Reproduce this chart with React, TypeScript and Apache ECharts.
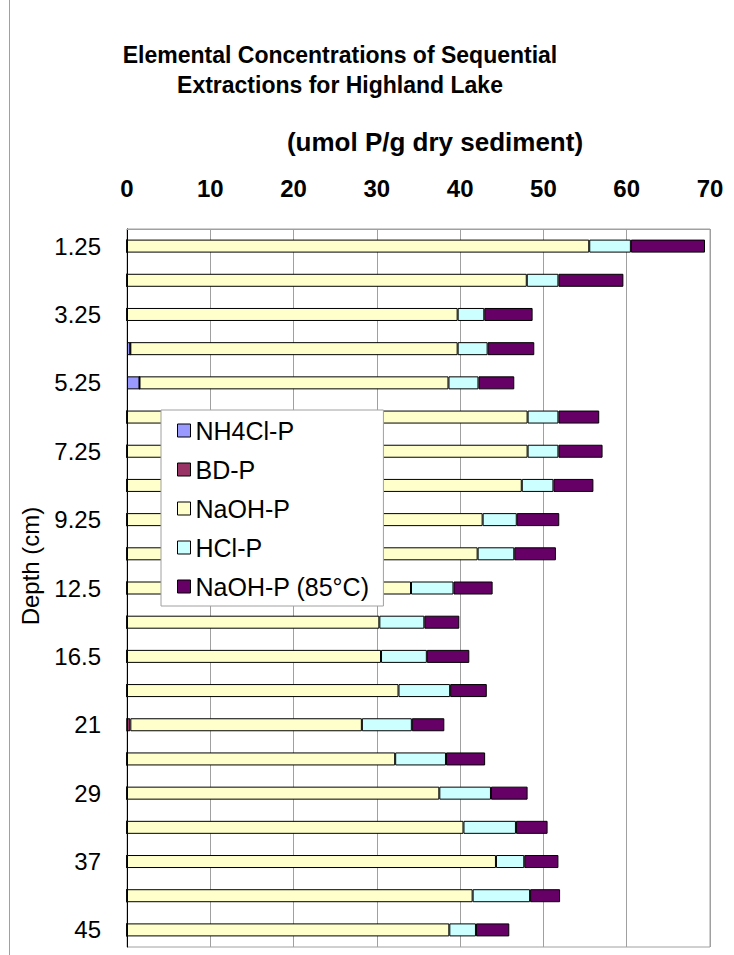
import React, { useEffect, useRef } from "react";
import * as echarts from "echarts";

const depths = ["1.25","2.25","3.25","4.25","5.25","6.25","7.25","8.25","9.25","10.75","12.5","14.5","16.5","18.75","21","25","29","33","37","41","45"];
const nh4clP = [0,0,0,0.4,1.5,0,0,0,0,0,0,0,0,0,0,0,0,0,0,0,0];
const bdP = [0,0,0,0,0,0,0,0,0,0,0,0,0,0,0.4,0,0,0,0,0,0];
const naohP = [55.5,48.0,39.7,39.3,37.1,48.1,48.1,47.4,42.7,42.1,34.1,30.3,30.5,32.6,27.8,32.2,37.5,40.4,44.3,41.5,38.7];
const hclP = [5.0,3.8,3.2,3.6,3.6,3.7,3.7,3.8,4.1,4.4,5.1,5.4,5.5,6.2,6.0,6.1,6.2,6.3,3.4,6.9,3.2];
const naoh85P = [8.9,7.8,5.8,5.6,4.3,4.9,5.3,4.8,5.1,5.0,4.7,4.2,5.1,4.4,3.9,4.7,4.4,3.8,4.1,3.6,4.0];

const seriesDefs = [
  { name: "NH4Cl-P", data: nh4clP, color: "#9999FF" },
  { name: "BD-P", data: bdP, color: "#993366" },
  { name: "NaOH-P", data: naohP, color: "#FFFFCC" },
  { name: "HCl-P", data: hclP, color: "#CCFFFF" },
  { name: "NaOH-P (85°C)", data: naoh85P, color: "#660066" },
];

const FONT = "Arial, 'Liberation Sans', sans-serif";

export default function App() {
  const ref = useRef<HTMLDivElement>(null);
  useEffect(() => {
    if (!ref.current) return;
    const chart = echarts.init(ref.current, undefined, { renderer: "svg" });
    chart.setOption({
      animation: false,
      backgroundColor: "#ffffff",
      textStyle: { fontFamily: FONT },
      graphic: [
        { type: "line", shape: { x1: 9.5, y1: 0, x2: 9.5, y2: 955 }, style: { stroke: "#a0a0a0", lineWidth: 1 } },
        { type: "text", x: 340, y: 55, style: { text: "Elemental Concentrations of Sequential", font: `bold 23px ${FONT}`, fill: "#000", textAlign: "center", textVerticalAlign: "middle" } },
        { type: "text", x: 340, y: 85, style: { text: "Extractions for Highland Lake", font: `bold 23px ${FONT}`, fill: "#000", textAlign: "center", textVerticalAlign: "middle" } },
        { type: "text", x: 435, y: 142, style: { text: "(umol P/g dry sediment)", font: `bold 26px ${FONT}`, fill: "#000", textAlign: "center", textVerticalAlign: "middle" } },
        { type: "text", x: 30, y: 566, rotation: Math.PI / 2, style: { text: "Depth (cm)", font: `24px ${FONT}`, fill: "#000", textAlign: "center", textVerticalAlign: "middle" } },
      ],
      legend: {
        orient: "vertical",
        left: 161,
        top: 410,
        padding: [8, 14, 7, 16],
        itemGap: 14,
        itemWidth: 13,
        itemHeight: 13,
        icon: "rect",
        backgroundColor: "#ffffff",
        borderColor: "#a0a0a0",
        borderWidth: 1,
        textStyle: { fontSize: 25, color: "#000", fontFamily: FONT },
        data: seriesDefs.map((s) => ({ name: s.name, itemStyle: { color: s.color, borderColor: "#000", borderWidth: 1 } })),
      },
      grid: {
        left: 127,
        right: 24,
        top: 229,
        bottom: 8,
        show: true,
        borderColor: "#a0a0a0",
        borderWidth: 1,
      },
      xAxis: {
        type: "value",
        position: "top",
        min: 0,
        max: 70,
        interval: 10,
        axisLine: { show: true, lineStyle: { color: "#a0a0a0" } },
        axisTick: { show: false },
        splitLine: { show: true, lineStyle: { color: "#a0a0a0", width: 1 } },
        axisLabel: { fontSize: 24, fontWeight: "bold", color: "#000", margin: 29, fontFamily: FONT },
      },
      yAxis: {
        type: "category",
        inverse: true,
        data: depths,
        axisLine: { show: true, lineStyle: { color: "#000", width: 1 } },
        axisTick: { show: false },
        axisLabel: { interval: 1, fontSize: 24, color: "#000", margin: 26, fontFamily: FONT },
      },
      series: seriesDefs.map((s) => ({
        name: s.name,
        type: "bar",
        stack: "total",
        data: s.data,
        barWidth: 13,
        itemStyle: { color: s.color, borderColor: "#000", borderWidth: 1 },
      })),
    });
    return () => chart.dispose();
  }, []);
  return <div ref={ref} style={{ position: "absolute", left: 0, top: 0, width: 734, height: 955 }} />;
}
